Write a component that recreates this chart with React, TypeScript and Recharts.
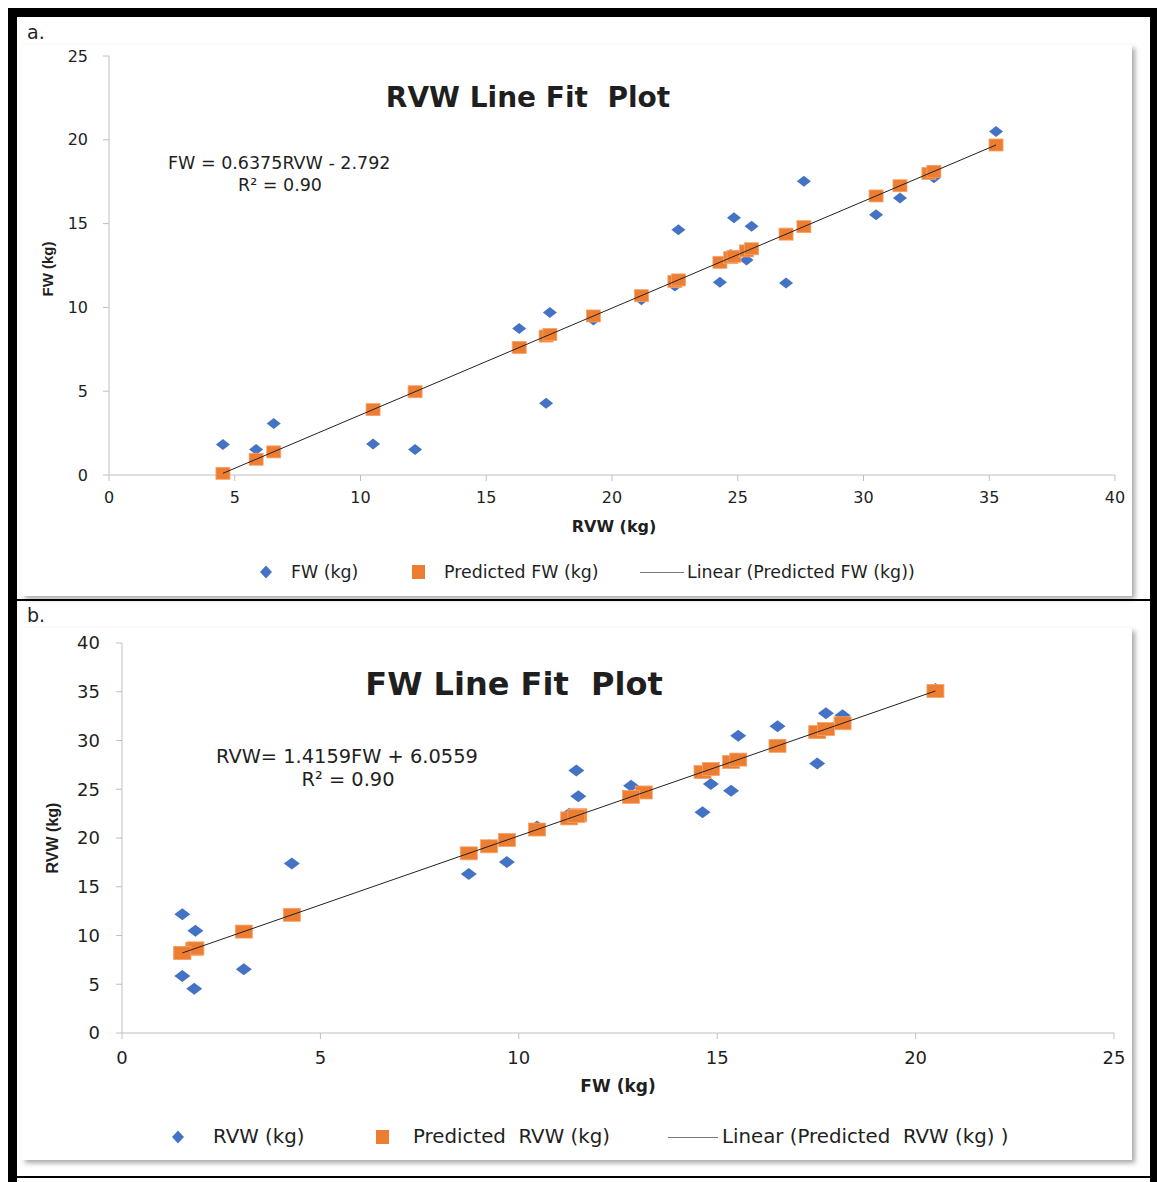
import React from "react";
import { Scatter, ScatterChart, XAxis, YAxis } from "recharts";

// paired measurements (kg), same trees in both plots
const rvw = [4.53, 5.85, 6.55, 10.5, 12.17, 16.31, 17.38, 17.53, 19.26, 21.17, 22.5, 22.64, 24.29, 24.72, 24.85, 25.35, 25.55, 26.92, 27.63, 30.5, 31.45, 32.6, 32.8, 35.27];
const fw = [1.82, 1.52, 3.07, 1.85, 1.52, 8.74, 4.28, 9.7, 9.25, 10.46, 11.27, 14.63, 11.5, 13.15, 15.35, 12.83, 14.84, 11.45, 17.52, 15.53, 16.52, 18.16, 17.74, 20.5];

// fitted values
const predictedFw = [0.1, 0.94, 1.38, 3.9, 4.97, 7.61, 8.29, 8.38, 9.49, 10.7, 11.55, 11.64, 12.69, 12.97, 13.05, 13.37, 13.5, 14.37, 14.82, 16.65, 17.26, 17.99, 18.12, 19.69];
const predictedRvw = [8.63, 8.21, 10.4, 8.68, 8.21, 18.43, 12.12, 19.79, 19.15, 20.87, 22.01, 26.77, 22.34, 24.67, 27.79, 24.22, 27.07, 22.27, 30.86, 28.04, 29.45, 31.77, 31.17, 35.08];

const ticksA_x = [0, 5, 10, 15, 20, 25, 30, 35, 40];
const ticksA_y = [0, 5, 10, 15, 20, 25];
const ticksB_x = [0, 5, 10, 15, 20, 25];
const ticksB_y = [0, 5, 10, 15, 20, 25, 30, 35, 40];

const BLUE = "#4472C4";
const ORANGE = "#ED7D31";
const AXIS = "#bfbfbf";
const TXT = "#1f1f1f";

const pairs = (xs: number[], ys: number[]) => xs.map((x, i) => ({ x, y: ys[i] }));

function ends(xs: number[], ys: number[]) {
  let lo = 0;
  let hi = 0;
  xs.forEach((v, i) => {
    if (v < xs[lo]) lo = i;
    if (v > xs[hi]) hi = i;
  });
  return [
    { x: xs[lo], y: ys[lo] },
    { x: xs[hi], y: ys[hi] },
  ];
}

const diamond = (w: number, h: number) => (p: any) => {
  const { cx, cy } = p;
  return (
    <polygon
      points={`${cx - w / 2},${cy} ${cx},${cy - h / 2} ${cx + w / 2},${cy} ${cx},${cy + h / 2}`}
      fill={BLUE}
    />
  );
};

const square = (w: number, h: number) => (p: any) => {
  const { cx, cy } = p;
  return <rect x={cx - w / 2} y={cy - h / 2} width={w} height={h} fill={ORANGE} stroke="#f4a46e" strokeWidth={0.8} />;
};

const noDot = () => <g />;

function abs(left: number, top: number, extra: React.CSSProperties = {}): React.CSSProperties {
  return { position: "absolute", left, top, ...extra };
}

function LegendRow({ top, items }: { top: number; items: { kind: string; x: number; tx: number; label: string; size: number }[] }) {
  return (
    <>
      {items.map((it) => (
        <React.Fragment key={it.label}>
          {it.kind === "diamond" && (
            <svg style={abs(it.x - 8, top - 8)} width={16} height={16}>
              <polygon points="2,8 8,1.5 14,8 8,14.5" fill={BLUE} />
            </svg>
          )}
          {it.kind === "square" && <div style={abs(it.x - 6, top - 7, { width: 13, height: 14, background: ORANGE })} />}
          {it.kind === "line" && <div style={abs(it.x, top, { width: it.size, height: 1, background: "#7a7a7a" })} />}
          <div style={abs(it.tx, top - 12, { whiteSpace: "pre", lineHeight: "24px" })}>{it.label}</div>
        </React.Fragment>
      ))}
    </>
  );
}

const tickStyle = (size: number) => ({ fill: TXT, fontSize: size, fontFamily: "DejaVu Sans" });

export default function App() {
  const rowsA = pairs(rvw, fw);
  const predA = pairs(rvw, predictedFw);
  const lineA = ends(rvw, predictedFw);
  const rowsB = pairs(fw, rvw);
  const predB = pairs(fw, predictedRvw);
  const lineB = ends(fw, predictedRvw);

  return (
    <div style={{ position: "relative", width: 1157, height: 1182, background: "#fff", overflow: "hidden", fontFamily: "DejaVu Sans", color: TXT }}>
      <style>{"body{margin:0}"}</style>

      {/* document table frame */}
      <div style={abs(8, 8, { width: 1149, height: 9, background: "#000" })} />
      <div style={abs(8, 8, { width: 9, height: 1174, background: "#000" })} />
      <div style={abs(1150, 8, { width: 7, height: 1174, background: "#000" })} />
      <div style={abs(17, 599, { width: 1133, height: 2, background: "#000" })} />
      <div style={abs(17, 1176, { width: 1133, height: 2, background: "#000" })} />

      {/* chart boxes */}
      <div style={abs(22, 45, { width: 1110, height: 551, background: "#fff", boxShadow: "3px 3px 5px rgba(0,0,0,0.35)" })} />
      <div style={abs(22, 628, { width: 1110, height: 532, background: "#fff", boxShadow: "3px 3px 5px rgba(0,0,0,0.35)" })} />

      <div style={abs(27, 21, { fontSize: 19 })}>a.</div>
      <div style={abs(27, 604, { fontSize: 19 })}>b.</div>

      {/* ---------- a. RVW line fit ---------- */}
      <div style={abs(0, 0)}>
        <ScatterChart width={1157} height={600} margin={{ top: 56, right: 42, left: 49, bottom: 95 }}>
          <XAxis
            type="number"
            dataKey="x"
            domain={[0, 40]}
            ticks={ticksA_x}
            interval={0}
            stroke={AXIS}
            tickSize={6}
            tickMargin={11}
            height={30}
            tick={tickStyle(16)}
          />
          <YAxis
            type="number"
            dataKey="y"
            domain={[0, 25]}
            ticks={ticksA_y}
            interval={0}
            stroke={AXIS}
            tickSize={6}
            tickMargin={15}
            width={60}
            tick={tickStyle(16)}
          />
          <Scatter data={rowsA} shape={diamond(14, 11)} isAnimationActive={false} />
          <Scatter data={predA} shape={square(14, 12)} isAnimationActive={false} />
          <Scatter data={lineA} shape={noDot} line={{ stroke: "#222", strokeWidth: 1 }} isAnimationActive={false} />
        </ScatterChart>
      </div>
      <div style={abs(0, 81, { width: 1056, textAlign: "center", fontSize: 28, fontWeight: "bold" })}>RVW Line Fit&nbsp; Plot</div>
      <div style={abs(168, 153, { fontSize: 17.5 })}>FW = 0.6375RVW - 2.792</div>
      <div style={abs(180, 175, { width: 200, textAlign: "center", fontSize: 17.5 })}>R² = 0.90</div>
      <div style={abs(614, 526, { transform: "translate(-50%,-50%)", fontSize: 16, fontWeight: "bold" })}>RVW (kg)</div>
      <div style={abs(47, 269, { transform: "translate(-50%,-50%) rotate(-90deg)", fontSize: 15, fontWeight: "bold", fontFamily: "Liberation Sans", whiteSpace: "nowrap" })}>FW (kg)</div>
      <div style={{ fontSize: 17.4 }}>
        <LegendRow
          top={572}
          items={[
            { kind: "diamond", x: 266, tx: 291, label: "FW (kg)", size: 0 },
            { kind: "square", x: 418, tx: 444, label: "Predicted FW (kg)", size: 0 },
            { kind: "line", x: 640, tx: 687, label: "Linear (Predicted FW (kg))", size: 44 },
          ]}
        />
      </div>

      {/* ---------- b. FW line fit ---------- */}
      <div style={abs(0, 600)}>
        <ScatterChart width={1157} height={582} margin={{ top: 43, right: 43, left: 62, bottom: 119 }}>
          <XAxis
            type="number"
            dataKey="x"
            domain={[0, 25]}
            ticks={ticksB_x}
            interval={0}
            stroke={AXIS}
            tickSize={6}
            tickMargin={12}
            height={30}
            tick={tickStyle(18)}
          />
          <YAxis
            type="number"
            dataKey="y"
            domain={[0, 40]}
            ticks={ticksB_y}
            interval={0}
            stroke={AXIS}
            tickSize={6}
            tickMargin={16}
            width={60}
            tick={tickStyle(18)}
          />
          <Scatter data={rowsB} shape={diamond(16, 12)} isAnimationActive={false} />
          <Scatter data={predB} shape={square(17, 13)} isAnimationActive={false} />
          <Scatter data={lineB} shape={noDot} line={{ stroke: "#222", strokeWidth: 1 }} isAnimationActive={false} />
        </ScatterChart>
      </div>
      <div style={abs(0, 665, { width: 1028, textAlign: "center", fontSize: 32, fontWeight: "bold" })}>FW Line Fit&nbsp; Plot</div>
      <div style={abs(216, 745, { fontSize: 19.4 })}>RVW= 1.4159FW + 6.0559</div>
      <div style={abs(248, 768, { width: 200, textAlign: "center", fontSize: 19.4 })}>R² = 0.90</div>
      <div style={abs(618, 1086, { transform: "translate(-50%,-50%)", fontSize: 17, fontWeight: "bold" })}>FW (kg)</div>
      <div style={abs(53, 838, { transform: "translate(-50%,-50%) rotate(-90deg)", fontSize: 16, fontWeight: "bold", fontFamily: "Liberation Sans", whiteSpace: "nowrap" })}>RVW (kg)</div>
      <div style={{ fontSize: 19.8 }}>
        <LegendRow
          top={1137}
          items={[
            { kind: "diamond", x: 178, tx: 213, label: "RVW (kg)", size: 0 },
            { kind: "square", x: 382, tx: 413, label: "Predicted  RVW (kg)", size: 0 },
            { kind: "line", x: 668, tx: 722, label: "Linear (Predicted  RVW (kg) )", size: 50 },
          ]}
        />
      </div>
    </div>
  );
}
